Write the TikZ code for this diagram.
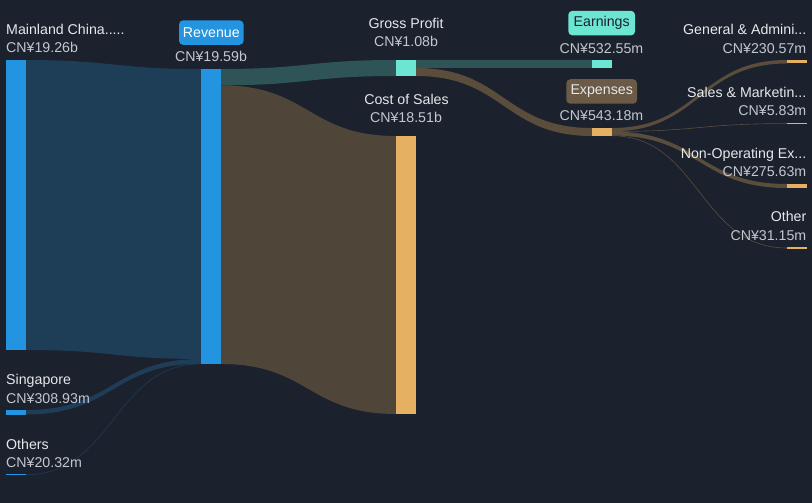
\documentclass[tikz,border=0pt]{standalone}
\usepackage{fontspec}
\setmainfont{Liberation Sans}
\definecolor{bg}{HTML}{1B212D}
\definecolor{bblue}{HTML}{2394DF}
\definecolor{lblue}{HTML}{1E3D57}
\definecolor{lteal}{HTML}{2E5457}
\definecolor{lbrown}{HTML}{4F4639}
\definecolor{lexp}{HTML}{5A4D3C}
\definecolor{gpc}{HTML}{6CE5D2}
\definecolor{cosc}{HTML}{E5B061}
\definecolor{expbox}{HTML}{6B5A45}
\definecolor{namec}{HTML}{E6E8EB}
\definecolor{valc}{HTML}{C3C7CE}
\newcommand\sflow[7]{\fill[#7] (#1,#2) .. controls ({(#1+#4)/2},#2) and ({(#1+#4)/2},#5) .. (#4,#5) -- (#4,#6) .. controls ({(#1+#4)/2},#6) and ({(#1+#4)/2},#3) .. (#1,#3) -- cycle;}
\newcommand\sline[6]{\draw[#5,line width=#6] (#1,#2) .. controls ({(#1+#3)/2},#2) and ({(#1+#3)/2},#4) .. (#3,#4);}
\begin{document}
\begin{tikzpicture}[x=1pt,y=-1pt,
  bar/.style={inner sep=0pt,outer sep=0pt,minimum width=#1,anchor=north west},
  bar/.default=20pt,
  lbl/.style={font=\fontsize{14.2}{17}\selectfont,text=namec,inner sep=0pt},
  val/.style={font=\fontsize{14.2}{17}\selectfont,text=valc,inner sep=0pt},
  tag/.style={font=\fontsize{14.2}{17}\selectfont,rounded corners=4pt,inner sep=0pt,minimum height=24.5pt}]
\fill[bg] (0,0) rectangle (812,503);
\useasboundingbox (0,0) rectangle (812,503);
% flows
\sflow{26}{60}{350}{201}{69}{359}{lblue}
\sflow{26}{410}{414.5}{201}{359}{363.7}{lblue}
\sline{26}{474.7}{201}{363.9}{lblue}{0.6pt}
\sflow{221}{69}{85.3}{396}{60}{76}{lteal}
\sflow{221}{85.3}{364}{396}{136}{414}{lbrown}
\sflow{416}{60}{68}{592}{60}{68}{lteal}
\sflow{416}{68}{76}{592}{128}{136}{lexp}
\sflow{611.5}{128}{131.4}{787}{60}{63.5}{lexp}
\sline{611.5}{131.5}{787}{123.6}{lexp}{0.6pt}
\sflow{611.5}{131.5}{135.5}{787}{184}{188}{lexp}
\sline{611.5}{135.7}{787}{248}{lexp}{0.6pt}
% bars
\node[bar,fill=bblue,minimum height=290pt] (mc) at (6,60) {};
\node[bar,fill=bblue,minimum height=4.5pt] (sg) at (6,410) {};
\node[bar,fill=bblue,minimum height=1.3pt] (ot) at (6,474) {};
\node[bar,fill=bblue,minimum height=295pt] (rev) at (201,69) {};
\node[bar,fill=gpc,minimum height=16pt] (gp) at (396,60) {};
\node[bar,fill=cosc,minimum height=278pt] (cos) at (396,136) {};
\node[bar=19.5pt,fill=gpc,minimum height=8pt] (ear) at (592,60) {};
\node[bar=19.5pt,fill=cosc,minimum height=8pt] (exp) at (592,128) {};
\node[bar=19.5pt,fill=cosc,minimum height=3.5pt] (ga) at (787,60) {};
\node[bar=19.5pt,fill=cosc,minimum height=1.3pt] (sm) at (787,123) {};
\node[bar=19.5pt,fill=cosc,minimum height=4pt] (no) at (787,184) {};
\node[bar=19.5pt,fill=cosc,minimum height=1.3pt] (oth) at (787,247.3) {};
% labels
\node[lbl,anchor=base west] (mcl) at (6,35) {Mainland China.....};
\node[val,anchor=base west] (mcv) at (6,53) {CN¥19.26b};
\node[lbl,anchor=base west] (sgl) at (6,384.5) {Singapore};
\node[val,anchor=base west] (sgv) at (6,403.3) {CN¥308.93m};
\node[lbl,anchor=base west] (otl) at (6,449.3) {Others};
\node[val,anchor=base west] (otv) at (6,467.7) {CN¥20.32m};
\node[tag,fill=bblue,text=white,minimum width=64.5pt] (revl) at (211.3,32.6) {Revenue};
\node[val,anchor=base] (revv) at (211,61.7) {CN¥19.59b};
\node[lbl,anchor=base] (gpl) at (406,28.3) {Gross Profit};
\node[val,anchor=base] (gpv) at (406,46.7) {CN¥1.08b};
\node[lbl,anchor=base] (cosl) at (406.5,104.3) {Cost of Sales};
\node[val,anchor=base] (cosv) at (406,122.3) {CN¥18.51b};
\node[tag,fill=gpc,text=bg,minimum width=66.7pt] (earl) at (601.7,23.1) {Earnings};
\node[val,anchor=base] (earv) at (601.5,53.3) {CN¥532.55m};
\node[tag,fill=expbox,text=namec,minimum width=70.7pt] (expl) at (601.7,91.5) {Expenses};
\node[val,anchor=base] (expv) at (601.5,120.7) {CN¥543.18m};
\node[lbl,anchor=base east] (gal) at (806.5,34.3) {General \& Admini...};
\node[val,anchor=base east] (gav) at (806.5,53.3) {CN¥230.57m};
\node[lbl,anchor=base east] (sml) at (806.5,97.3) {Sales \& Marketin...};
\node[val,anchor=base east] (smv) at (806.5,115.7) {CN¥5.83m};
\node[lbl,anchor=base east] (nol) at (806.5,158.3) {Non-Operating Ex...};
\node[val,anchor=base east] (nov) at (806.5,176.7) {CN¥275.63m};
\node[lbl,anchor=base east] (othl) at (806.5,221.7) {Other};
\node[val,anchor=base east] (othv) at (806.5,240.7) {CN¥31.15m};
\end{tikzpicture}
\end{document}
